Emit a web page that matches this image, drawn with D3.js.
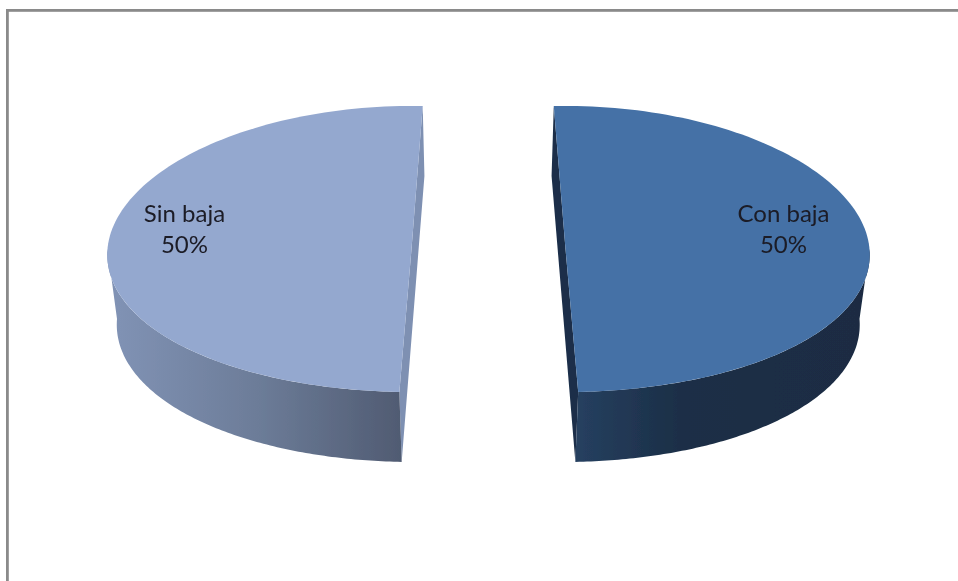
<!DOCTYPE html>
<html><head><meta charset="utf-8">
<style>html,body{margin:0;padding:0;background:#fff}svg{display:block}</style>
<script src="https://cdnjs.cloudflare.com/ajax/libs/d3/7.8.5/d3.min.js"></script>
</head><body><div id="chart"></div>
<script>
const categories = ["Con baja", "Sin baja"];
const seriesValues = [50, 50];
const W = 958, H = 581;
const topColors = ["#4471a6", "#94a8cf"];
const wallStops = [
  [[0, "#264060"], [0.38, "#1b2e46"], [1, "#1a2c43"]],
  [[0, "#8092b4"], [0.5, "#6c7c98"], [1, "#505b72"]]
];
const cutColors = ["#1b2f49", "#7e90b2"];
// per-slice layout: exploded centre, rotation, lower rim offset
const layout = [
  {cx: 565.5, cy: 249, rot: -2.3, dx: -2.5},
  {cx: 411.5, cy: 249, rot: 2.2, dx: 2}
];
const rx = 304, ry = 143, depth = 70, rxLow = 296.5, perspective = 0.04;

const svg = d3.select("#chart").append("svg").attr("width", W).attr("height", H);
svg.append("rect").attr("width", W).attr("height", H).attr("fill", "#fff");
const defs = svg.append("defs");
defs.append("filter").attr("id", "soft").attr("x", "-2%").attr("y", "-2%").attr("width", "104%").attr("height", "104%")
  .append("feGaussianBlur").attr("stdDeviation", 0.55);
const root = svg.append("g").attr("filter", "url(#soft)");

const frameColor = "#8a8a8a";
root.append("rect").attr("x", 6).attr("y", 9).attr("width", W + 10).attr("height", 2.8).attr("fill", frameColor);
root.append("rect").attr("x", 6).attr("y", 9).attr("width", 2.8).attr("height", H + 10).attr("fill", frameColor);

const pie = d3.pie().sort(null).startAngle(0).endAngle(2 * Math.PI);
const arcs = pie(seriesValues);
const line = d3.line();

function pt(s, a, low) {
  const r = low ? rxLow : rx;
  const c = Math.cos(a);
  return [s.cx + (low ? s.dx : 0) + r * Math.sin(a) * (1 - perspective * c), s.cy + (low ? depth : 0) - ry * c];
}
function angles(a0, a1) {
  return d3.range(0, 121).map(i => a0 + (a1 - a0) * i / 120);
}

arcs.forEach((d, i) => {
  const s = layout[i], rot = s.rot * Math.PI / 180;
  const a0 = d.startAngle + rot, a1 = d.endAngle + rot;
  const g = root.append("g");
  const hw = i === 0 ? [Math.PI / 2, a1] : [a0, 3 * Math.PI / 2];
  const wallPts = angles(hw[0], hw[1]);
  const xs = wallPts.map(a => pt(s, a, true)[0]);
  const id = "wall" + i;
  const grad = defs.append("linearGradient").attr("id", id)
    .attr("gradientUnits", "userSpaceOnUse")
    .attr("x1", d3.min(xs)).attr("x2", d3.max(xs)).attr("y1", 0).attr("y2", 0);
  wallStops[i].forEach(st => grad.append("stop").attr("offset", st[0]).attr("stop-color", st[1]));

  // cut face
  const centreTop = [s.cx, s.cy];
  const cutA = i === 0 ? a0 : a1, cutB = i === 0 ? a1 : a0;
  g.append("path").attr("fill", cutColors[i])
    .attr("d", line([pt(s, cutA, false), pt(s, cutA, true), pt(s, cutB, true), pt(s, cutB, false), centreTop]) + "Z");
  // outer wall
  g.append("path").attr("fill", `url(#${id})`)
    .attr("d", line([...wallPts.map(a => pt(s, a, false)), ...wallPts.slice().reverse().map(a => pt(s, a, true))]) + "Z");
  // top face
  g.append("path").attr("fill", topColors[i])
    .attr("d", line([centreTop, ...angles(a0, a1).map(a => pt(s, a, false))]) + "Z");
});

const labelPos = [[783.5, 221.5], [184.5, 221.5]];
categories.forEach((c, i) => {
  const text = (x, y, v) => root.append("text").attr("x", x).attr("y", y)
    .attr("text-anchor", "middle").attr("fill", "#1b1b25")
    .style("font-family", "Lato, 'Open Sans', sans-serif").style("font-size", "24px").text(v);
  text(labelPos[i][0], labelPos[i][1], c);
  text(labelPos[i][0], labelPos[i][1] + 31, d3.format(".0%")(arcs[i].value / d3.sum(seriesValues)));
});
</script></body></html>
